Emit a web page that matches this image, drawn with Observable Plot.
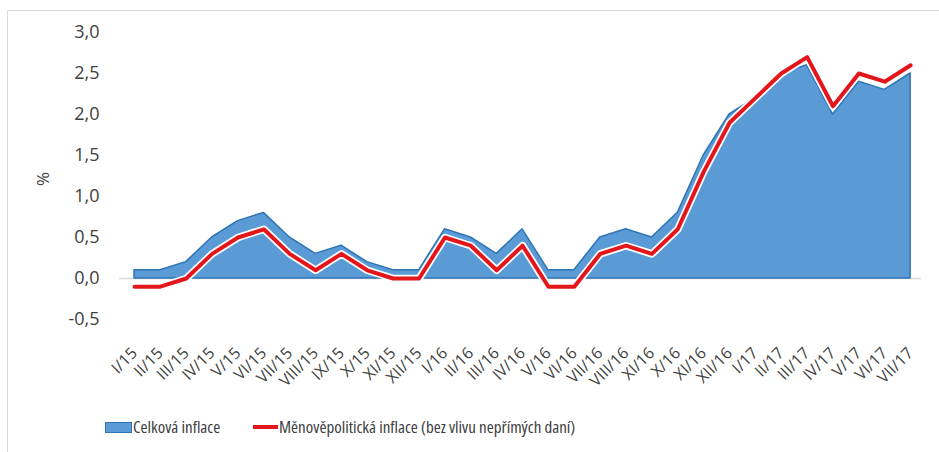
<!DOCTYPE html>
<html><head><meta charset="utf-8">
<script src="https://cdn.jsdelivr.net/npm/d3@7"></script>
<script src="https://cdn.jsdelivr.net/npm/@observablehq/plot@0.6"></script>
<style>
body{margin:0;background:#fff;}
#wrap{position:relative;width:939px;height:452px;overflow:hidden;background:#fff;font-family:"Open Sans",sans-serif;color:#404040;}
#frame{position:absolute;left:7px;top:10px;width:1000px;height:1000px;border-top:1px solid #d9d9d9;border-left:1px solid #d9d9d9;}
#chart{position:absolute;left:0;top:0;}
.lg{position:absolute;font-size:17px;line-height:20px;top:417px;white-space:nowrap;font-stretch:condensed;}
</style></head>
<body>
<div id="wrap">
<div id="frame"></div>
<div id="chart"></div>
<div style="position:absolute;left:105px;top:422px;width:25px;height:9px;background:#5B9BD5;border:1px solid #2E75B6;"></div>
<div class="lg" style="left:133px;">Celková inflace</div>
<div style="position:absolute;left:253px;top:425px;width:25px;height:4px;background:#E3161B;"></div>
<div class="lg" style="left:279px;">Měnověpolitická inflace (bez vlivu nepřímých daní)</div>
</div>
<script>
const labels = ["I/15","II/15","III/15","IV/15","V/15","VI/15","VII/15","VIII/15","IX/15","X/15","XI/15","XII/15",
  "I/16","II/16","III/16","IV/16","V/16","VI/16","VII/16","VIII/16","XI/16","X/16","XI/16","XII/16",
  "I/17","II/17","III/17","IV/17","V/17","VI/17","VII/17"];
const celkova = [0.1,0.1,0.2,0.5,0.7,0.8,0.5,0.3,0.4,0.2,0.1,0.1,
  0.6,0.5,0.3,0.6,0.1,0.1,0.5,0.6,0.5,0.8,1.5,2.0,
  2.2,2.5,2.6,2.0,2.4,2.3,2.5];
const menove = [-0.1,-0.1,0.0,0.3,0.5,0.6,0.3,0.1,0.3,0.1,0.0,0.0,
  0.5,0.4,0.1,0.4,-0.1,-0.1,0.3,0.4,0.3,0.6,1.3,1.9,
  2.2,2.5,2.7,2.1,2.5,2.4,2.6];
const yTicks = [-0.5,0,0.5,1,1.5,2,2.5,3];

const data = labels.map((l,i)=>({i, label:l, celkova:celkova[i], menove:menove[i]}));

const chart = Plot.plot({
  width: 939, height: 400,
  marginLeft: 119, marginRight: 18, marginTop: 32, marginBottom: 81,
  x: {domain: [-0.58, 30.42]},
  y: {domain: [-0.5, 3.0]},
  style: {fontFamily: "'Open Sans', sans-serif", fontSize: "16px", color: "#404040", background: "transparent", overflow: "visible"},
  marks: [
    Plot.ruleY([0], {stroke: "#d9d9d9", strokeWidth: 1.5}),
    Plot.areaY(data, {x: "i", y: "celkova", fill: "#5B9BD5", stroke: "#2E75B6", strokeWidth: 1.5}),
    Plot.line(data, {x: "i", y: "menove", stroke: "white", strokeWidth: 7.5}),
    Plot.line(data, {x: "i", y: "menove", stroke: "#E3161B", strokeWidth: 4}),
    Plot.axisY({ticks: yTicks, tickFormat: d => d.toFixed(1).replace(".", ","), tickSize: 0, tickPadding: 20, label: null, fontSize: 18}),
    Plot.text(["%"], {frameAnchor: "left", dx: -76, dy: 10, rotate: -90, fontSize: 17, fill: "#404040"}),
    Plot.axisX({ticks: d3.range(labels.length), tickFormat: i => labels[i], tickRotate: -45, tickSize: 0, tickPadding: 31, label: null, fontSize: 16})
  ]
});
document.getElementById("chart").appendChild(chart);
</script>
</body></html>
